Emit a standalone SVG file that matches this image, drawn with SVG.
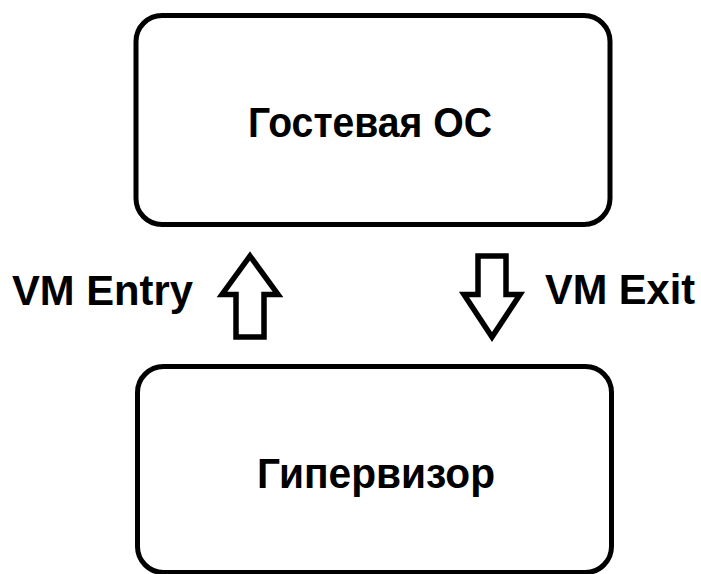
<svg xmlns="http://www.w3.org/2000/svg" width="701" height="574" viewBox="0 0 701 574">
  <style>
    .box { fill: #ffffff; stroke: #000000; stroke-width: 5; }
    .arrow { fill: #ffffff; stroke: #000000; stroke-width: 5.5; stroke-linejoin: miter; }
    .label { font-family: "Liberation Sans", Arial, sans-serif; font-weight: bold; font-size: 42px; fill: #000000; }
  </style>
  <rect width="701" height="574" fill="#ffffff"/>

  <!-- Guest OS -->
  <g id="guest-os">
    <rect class="box" x="136" y="15.5" width="474" height="209" rx="26" ry="26"/>
    <text class="label" x="370" y="137" text-anchor="middle" textLength="244" lengthAdjust="spacingAndGlyphs">Гостевая ОС</text>
  </g>

  <!-- Hypervisor -->
  <g id="hypervisor">
    <rect class="box" x="137.5" y="366.5" width="474" height="206" rx="26" ry="26"/>
    <text class="label" x="376" y="488" text-anchor="middle" textLength="238" lengthAdjust="spacingAndGlyphs">Гипервизор</text>
  </g>

  <!-- Transitions between hypervisor and guest -->
  <g id="connectors">
    <polygon class="arrow" points="250,256 278,294.5 264,294.5 264,337 236,337 236,294.5 222,294.5"/>
    <polygon class="arrow" points="478,256 506,256 506,294.5 520,294.5 492,337 464,294.5 478,294.5"/>
    <text class="label" x="12" y="305" textLength="181" lengthAdjust="spacingAndGlyphs">VM Entry</text>
    <text class="label" x="545" y="304" textLength="150" lengthAdjust="spacingAndGlyphs">VM Exit</text>
  </g>
</svg>
